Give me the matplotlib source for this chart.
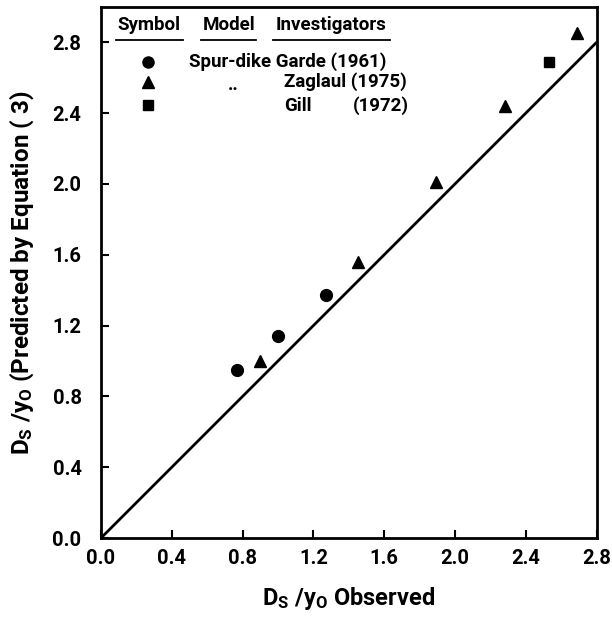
import matplotlib
matplotlib.use("Agg")
import matplotlib.pyplot as plt

# Data
garde_x = [0.77, 1.00, 1.27]
garde_y = [0.95, 1.14, 1.37]
zaglaul_x = [0.90, 1.45, 1.89, 2.28, 2.69]
zaglaul_y = [1.00, 1.56, 2.01, 2.44, 2.85]
gill_x = [2.53]
gill_y = [2.69]
line_x = [0.0, 2.8]
line_y = [0.0, 2.8]
ticks = [0.0, 0.4, 0.8, 1.2, 1.6, 2.0, 2.4, 2.8]
tick_labels = ["0.0", "0.4", "0.8", "1.2", "1.6", "2.0", "2.4", "2.8"]

FAM = ["Roboto", "DejaVu Sans"]
plt.rcParams["font.family"] = FAM
plt.rcParams["font.weight"] = "bold"
plt.rcParams["axes.labelweight"] = "bold"
plt.rcParams["mathtext.fontset"] = "custom"
plt.rcParams["mathtext.rm"] = "Roboto:bold"
plt.rcParams["mathtext.default"] = "rm"

fig = plt.figure(figsize=(6.12, 6.17), dpi=100)
ax = fig.add_axes([0.165, 0.128, 0.810, 0.861])

ax.plot(line_x, line_y, color="black", lw=2.0, solid_capstyle="butt")
ax.plot(garde_x, garde_y, "o", color="black", ms=8.5, ls="none")
ax.plot(zaglaul_x, zaglaul_y, "^", color="black", ms=8.5, ls="none")
ax.plot(gill_x, gill_y, "s", color="black", ms=7.5, ls="none")

ax.set_xlim(0, 2.8)
ax.set_ylim(0, 3.0)
ax.set_xticks(ticks)
ax.set_xticklabels(tick_labels)
ax.set_yticks(ticks)
ax.set_yticklabels(tick_labels)
ax.tick_params(direction="in", length=6, width=1.5, labelsize=14.5,
               top=False, right=False, color="black")
ax.tick_params(axis="y", pad=14)
ax.tick_params(axis="x", pad=8)
for s in ax.spines.values():
    s.set_visible(True)
    s.set_color("black")
    s.set_linewidth(2.0)

ax.set_xlabel(r"D$_{S}$ /y$_{O}$ Observed", fontsize=17, labelpad=12)
ax.set_ylabel(r"D$_{S}$ /y$_{O}$ (Predicted by Equation ( 3)", fontsize=17.5, labelpad=12)

# Legend table
fs = 13.5
def fx(px):
    return (px - 101) / 496 * 2.8
def fy(py):
    return (538 - py) / 531 * 3.0

ax.text(fx(149), fy(25), "Symbol", ha="center", va="center", fontsize=fs)
ax.text(fx(229), fy(25), "Model", ha="center", va="center", fontsize=fs)
ax.text(fx(331), fy(25), "Investigators", ha="center", va="center", fontsize=fs)
for x0, x1 in [(116, 183), (201, 256), (273, 390)]:
    ax.plot([fx(x0), fx(x1)], [fy(40), fy(40)], color="black", lw=1.3)

ax.plot([fx(148)], [fy(62)], "o", color="black", ms=8)
ax.plot([fx(148)], [fy(82)], "^", color="black", ms=8)
ax.plot([fx(148)], [fy(105)], "s", color="black", ms=7)
ax.text(fx(189), fy(62), "Spur-dike Garde (1961)", ha="left", va="center", fontsize=fs)
ax.text(fx(233), fy(85), "..", ha="center", va="center", fontsize=fs)
ax.text(fx(284), fy(82), "Zaglaul (1975)", ha="left", va="center", fontsize=fs)
ax.text(fx(284), fy(106), "Gill", ha="left", va="center", fontsize=fs)
ax.text(fx(353), fy(106), "(1972)", ha="left", va="center", fontsize=fs)

fig.savefig("out.png", dpi=100)
